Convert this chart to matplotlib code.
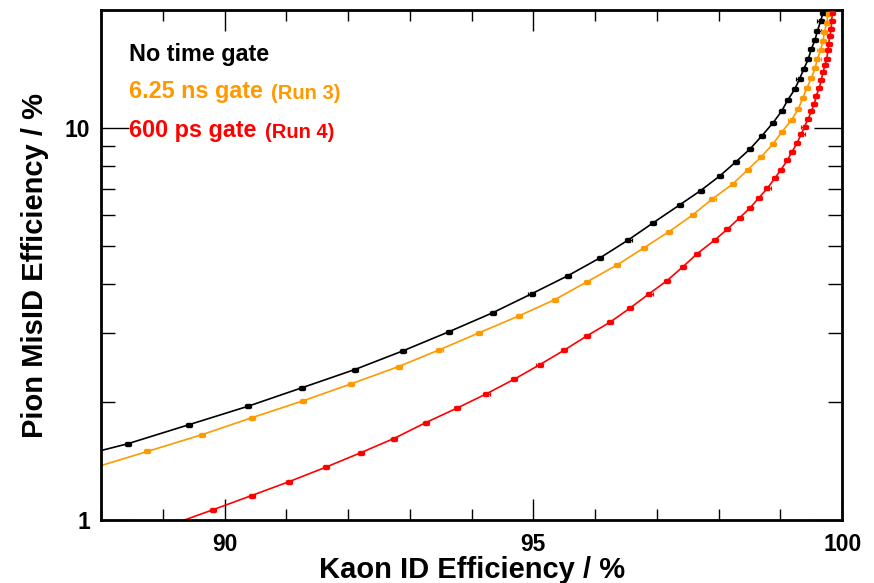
import numpy as np
import matplotlib
matplotlib.use("Agg")
import matplotlib.pyplot as plt

plt.rcParams['font.family'] = ['Liberation Sans', 'DejaVu Sans']
plt.rcParams['font.weight'] = 'bold'

# Kaon ID efficiency (%) vs pion misID efficiency (%)
kaon_nogate = [88.43, 89.42, 90.38, 91.25, 92.11, 92.89, 93.63, 94.34, 94.97, 95.56,
               96.08, 96.54, 96.94, 97.37, 97.71, 98.02, 98.28, 98.51, 98.70, 98.88,
               99.02, 99.12, 99.23, 99.31, 99.38, 99.45, 99.50, 99.56, 99.60, 99.65, 99.69]
pion_nogate = [1.565, 1.750, 1.951, 2.174, 2.421, 2.702, 3.021, 3.378, 3.776, 4.201,
               4.665, 5.186, 5.731, 6.370, 6.928, 7.552, 8.202, 8.849, 9.552, 10.31,
               11.04, 11.80, 12.54, 13.35, 14.16, 14.98, 15.89, 16.79, 17.70, 18.73, 19.67]

kaon_ns = [88.75, 89.64, 90.45, 91.27, 92.05, 92.82, 93.48, 94.12, 94.77, 95.35,
           95.87, 96.36, 96.79, 97.20, 97.58, 97.90, 98.23, 98.47, 98.69, 98.88,
           99.03, 99.18, 99.29, 99.36, 99.43, 99.50, 99.56, 99.60, 99.65, 99.69,
           99.71, 99.75, 99.77]
pion_ns = [1.496, 1.652, 1.826, 2.014, 2.226, 2.464, 2.719, 3.003, 3.319, 3.652,
           4.054, 4.478, 4.948, 5.445, 6.004, 6.598, 7.204, 7.824, 8.445, 9.114,
           9.797, 10.49, 11.19, 11.91, 12.66, 13.40, 14.21, 15.02, 15.83, 16.65,
           17.55, 18.51, 19.56]

kaon_ps = [89.81, 90.44, 91.04, 91.64, 92.21, 92.74, 93.26, 93.77, 94.24, 94.69,
           95.10, 95.49, 95.87, 96.24, 96.57, 96.88, 97.16, 97.42, 97.65, 97.94,
           98.14, 98.34, 98.51, 98.65, 98.79, 98.91, 99.01, 99.11, 99.19, 99.27,
           99.34, 99.39, 99.45, 99.50, 99.55, 99.58, 99.63, 99.66, 99.69, 99.72,
           99.75, 99.77, 99.78, 99.80, 99.82, 99.83, 99.84]
pion_ps = [1.062, 1.155, 1.252, 1.364, 1.486, 1.614, 1.773, 1.932, 2.099, 2.287,
           2.489, 2.707, 2.951, 3.196, 3.478, 3.783, 4.076, 4.425, 4.777, 5.186,
           5.519, 5.902, 6.257, 6.635, 7.022, 7.447, 7.838, 8.264, 8.712, 9.166,
           9.665, 10.09, 10.56, 11.04, 11.53, 12.10, 12.66, 13.27, 13.88, 14.46,
           15.04, 15.77, 16.40, 17.12, 17.87, 18.80, 19.67]

# where each drawn curve crosses the frame (line only, no marker)
ends_nogate = [(88.0, 1.504), (99.71, 20.0)]
ends_ns = [(88.0, 1.377), (99.78, 20.0)]
ends_ps = [(89.35, 1.0), (99.845, 20.0)]

series = [
    (kaon_nogate, pion_nogate, ends_nogate, 'black'),
    (kaon_ns, pion_ns, ends_ns, '#ff9900'),
    (kaon_ps, pion_ps, ends_ps, '#ff0000'),
]

fig = plt.figure(figsize=(8.74, 5.83), dpi=100)
ax = fig.add_axes([0.1156, 0.108, 0.848, 0.8748])

for kx, py, ends, col in series:
    lx = [ends[0][0]] + kx + [ends[1][0]]
    ly = [ends[0][1]] + py + [ends[1][1]]
    ax.plot(lx, ly, color=col, lw=1.2, zorder=2)
    ax.errorbar(kx, py, xerr=0.05, fmt='s', ms=3.0, color=col, mec=col,
                elinewidth=0.9, capsize=1.5, capthick=0.9, zorder=3)

ax.set_yscale('log')
ax.set_xlim(88, 100)
ax.set_ylim(1, 20)

ax.set_xticks([90, 95, 100])
ax.set_xticks(np.arange(88, 101, 1), minor=True)
ax.set_yticks([1, 10])
ax.set_yticklabels(['1', '10'])
ax.set_yticks([2, 3, 4, 5, 6, 7, 8, 9], minor=True)
ax.yaxis.set_minor_formatter(plt.NullFormatter())

ax.tick_params(which='both', direction='in', top=True, right=True, width=1,
               labelsize=16.5)
ax.tick_params(axis='x', which='major', length=15, pad=9)
ax.tick_params(axis='x', which='minor', length=8)
ax.tick_params(axis='y', which='major', length=20, pad=8)
ax.tick_params(axis='y', which='minor', length=10)
for lab in ax.get_xticklabels() + ax.get_yticklabels():
    lab.set_fontweight('bold')
for sp in ax.spines.values():
    sp.set_linewidth(2)

ax.set_xlabel('Kaon ID Efficiency / %', fontsize=21, fontweight='bold')
ax.set_ylabel('Pion MisID Efficiency / %', fontsize=21, fontweight='bold')
ax.xaxis.set_label_coords(0.5, -0.071)
ax.yaxis.set_label_coords(-0.070, 0.5)

# legend-like labels
t0 = ax.text(0.038, 0.9006, 'No time gate', transform=ax.transAxes,
             fontsize=16.8, fontweight='bold', color='black', va='baseline')
t1 = ax.text(0.038, 0.8269, '6.25 ns gate', transform=ax.transAxes,
             fontsize=16.8, fontweight='bold', color='#ff9900', va='baseline')
t2 = ax.text(0.038, 0.7504, '600 ps gate', transform=ax.transAxes,
             fontsize=16.8, fontweight='bold', color='#ff0000', va='baseline')
ax.annotate('(Run 3)', xy=(1, 0), xycoords=t1, xytext=(6, 0),
            textcoords='offset points', fontsize=14.5, fontweight='bold',
            color='#ff9900', va='bottom')
ax.annotate('(Run 4)', xy=(1, 0), xycoords=t2, xytext=(6, 0),
            textcoords='offset points', fontsize=14.5, fontweight='bold',
            color='#ff0000', va='bottom')

fig.savefig('out.png', dpi=100)
